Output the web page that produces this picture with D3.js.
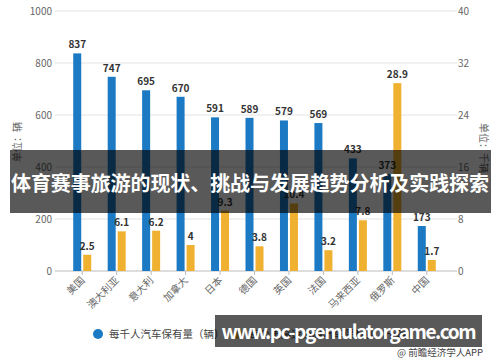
<!DOCTYPE html>
<html>
<head>
<meta charset="utf-8">
<script src="https://cdn.jsdelivr.net/npm/d3@7"></script>
<style>
  body { margin: 0; background: #fff; }
  text { font-family: "Noto Sans CJK SC", "Noto Sans", sans-serif; }
</style>
</head>
<body>
<div id="chart"></div>
<script>
// data
var countries = ["美国", "澳大利亚", "意大利", "加拿大", "日本", "德国", "英国", "法国", "马来西亚", "俄罗斯", "中国"];
var carsPerThousand = [837, 747, 695, 670, 591, 589, 579, 569, 433, 373, 173];
var carsPerKm = [2.5, 6.1, 6.2, 4, 9.3, 3.8, 10.4, 3.2, 7.8, 28.9, 1.7];
var leftTicks = [0, 200, 400, 600, 800, 1000];
var rightTicks = [0, 8, 16, 24, 32, 40];
var seriesNames = ["每千人汽车保有量（辆）", "每公里高速公路汽车保有量（千辆）"];

var blue = "#1b7ac3", yellow = "#efb12f";
var W = 500, H = 362;
var plotL = 55, plotR = 454, plotT = 11, plotB = 271;

var svg = d3.select("#chart").append("svg")
    .attr("width", W).attr("height", H);

var x = d3.scaleBand().domain(countries).range([65, 444]);
var yL = d3.scaleLinear().domain([0, 1000]).range([plotB, plotT]);
var yR = d3.scaleLinear().domain([0, 40]).range([plotB, plotT]);

// grid lines
svg.append("g").selectAll("line")
    .data(leftTicks.slice(1))
    .enter().append("line")
    .attr("x1", plotL).attr("x2", plotR + 3)
    .attr("y1", function(d) { return yL(d); })
    .attr("y2", function(d) { return yL(d); })
    .style("stroke", "#e3e3e3");

// left axis labels
svg.append("g").selectAll("text")
    .data(leftTicks)
    .enter().append("text")
    .attr("x", 52)
    .attr("y", function(d) { return yL(d) + 4; })
    .attr("text-anchor", "end")
    .style("font-size", "10px").style("fill", "#666")
    .text(function(d) { return d; });

// right axis labels
svg.append("g").selectAll("text")
    .data(rightTicks)
    .enter().append("text")
    .attr("x", 458)
    .attr("y", function(d) { return yR(d) + 4; })
    .style("font-size", "10px").style("fill", "#666")
    .text(function(d) { return d; });

// x axis
var xAxis = svg.append("g")
    .attr("transform", "translate(0," + plotB + ")")
    .call(d3.axisBottom(x).tickSize(4).tickFormat(""));
xAxis.select(".domain").attr("d", "M" + plotL + ",0H" + (plotR + 3)).style("stroke", "#bbb");
xAxis.selectAll(".tick line").style("stroke", "#bbb");

svg.append("g").selectAll("text")
    .data(countries)
    .enter().append("text")
    .attr("transform", function(d) {
      return "translate(" + (x(d) + x.bandwidth() / 2 + 3) + "," + (plotB + 10) + ") rotate(-45)";
    })
    .attr("text-anchor", "end")
    .style("font-size", "10px").style("fill", "#666")
    .text(function(d) { return d; });

// axis titles
svg.append("text")
    .attr("transform", "translate(21,142) rotate(-90)")
    .attr("text-anchor", "middle")
    .style("font-size", "10px").style("fill", "#666")
    .text("单位：辆");
svg.append("text")
    .attr("transform", "translate(480,148) rotate(90)")
    .attr("text-anchor", "middle")
    .style("font-size", "10px").style("fill", "#666")
    .text("单位：千辆");

var bw = 8, gap = 2;
var mid = function(i) { return x(countries[i]) + x.bandwidth() / 2; };

// blue bars
svg.append("g").selectAll("rect")
    .data(carsPerThousand)
    .enter().append("rect")
    .attr("x", function(d, i) { return mid(i) - bw - gap / 2; })
    .attr("y", function(d) { return yL(d); })
    .attr("width", bw)
    .attr("height", function(d) { return plotB - yL(d); })
    .style("fill", blue);

// yellow bars
svg.append("g").selectAll("rect")
    .data(carsPerKm)
    .enter().append("rect")
    .attr("x", function(d, i) { return mid(i) + gap / 2; })
    .attr("y", function(d) { return yR(d); })
    .attr("width", bw)
    .attr("height", function(d) { return plotB - yR(d); })
    .style("fill", yellow);

// value labels
svg.append("g").selectAll("text")
    .data(carsPerThousand)
    .enter().append("text")
    .attr("x", function(d, i) { return mid(i) - bw / 2 - gap / 2; })
    .attr("y", function(d) { return yL(d) - 5; })
    .attr("text-anchor", "middle")
    .style("font-size", "10px").style("font-weight", "bold").style("fill", "#333")
    .text(function(d) { return d; });
svg.append("g").selectAll("text")
    .data(carsPerKm)
    .enter().append("text")
    .attr("x", function(d, i) { return mid(i) + bw / 2 + gap / 2; })
    .attr("y", function(d) { return yR(d) - 5; })
    .attr("text-anchor", "middle")
    .style("font-size", "10px").style("font-weight", "bold").style("fill", "#333")
    .text(function(d) { return d; });

// legend
var legend = svg.append("g");
[[98, blue], [238, yellow]].forEach(function(p, i) {
  legend.append("circle").attr("cx", p[0]).attr("cy", 334).attr("r", 5).style("fill", p[1]);
  legend.append("text").attr("x", p[0] + 11).attr("y", 338)
    .style("font-size", "10.5px").style("fill", "#444")
    .text(seriesNames[i]);
});

// overlay banners
svg.append("rect")
    .attr("x", 10).attr("y", 150).attr("width", 481).attr("height", 63)
    .style("fill", "#000").style("opacity", 0.65);
svg.append("text")
    .attr("x", 250).attr("y", 191)
    .attr("text-anchor", "middle")
    .attr("textLength", 478)
    .style("font-size", "20px").style("font-weight", "bold").style("fill", "#fff")
    .text("体育赛事旅游的现状、挑战与发展趋势分析及实践探索");

svg.append("rect")
    .attr("x", 215).attr("y", 315).attr("width", 267).attr("height", 32)
    .style("fill", "#000").style("opacity", 0.65);
svg.append("text")
    .attr("x", 349).attr("y", 339)
    .attr("text-anchor", "middle")
    .attr("textLength", 255)
    .style("font-size", "19px").style("font-weight", "bold").style("fill", "#fff")
    .text("www.pc-pgemulatorgame.com");

// source
svg.append("text")
    .attr("x", 483).attr("y", 356)
    .attr("text-anchor", "end")
    .style("font-size", "9.5px").style("fill", "#444")
    .text("@ 前瞻经济学人APP");
</script>
</body>
</html>
